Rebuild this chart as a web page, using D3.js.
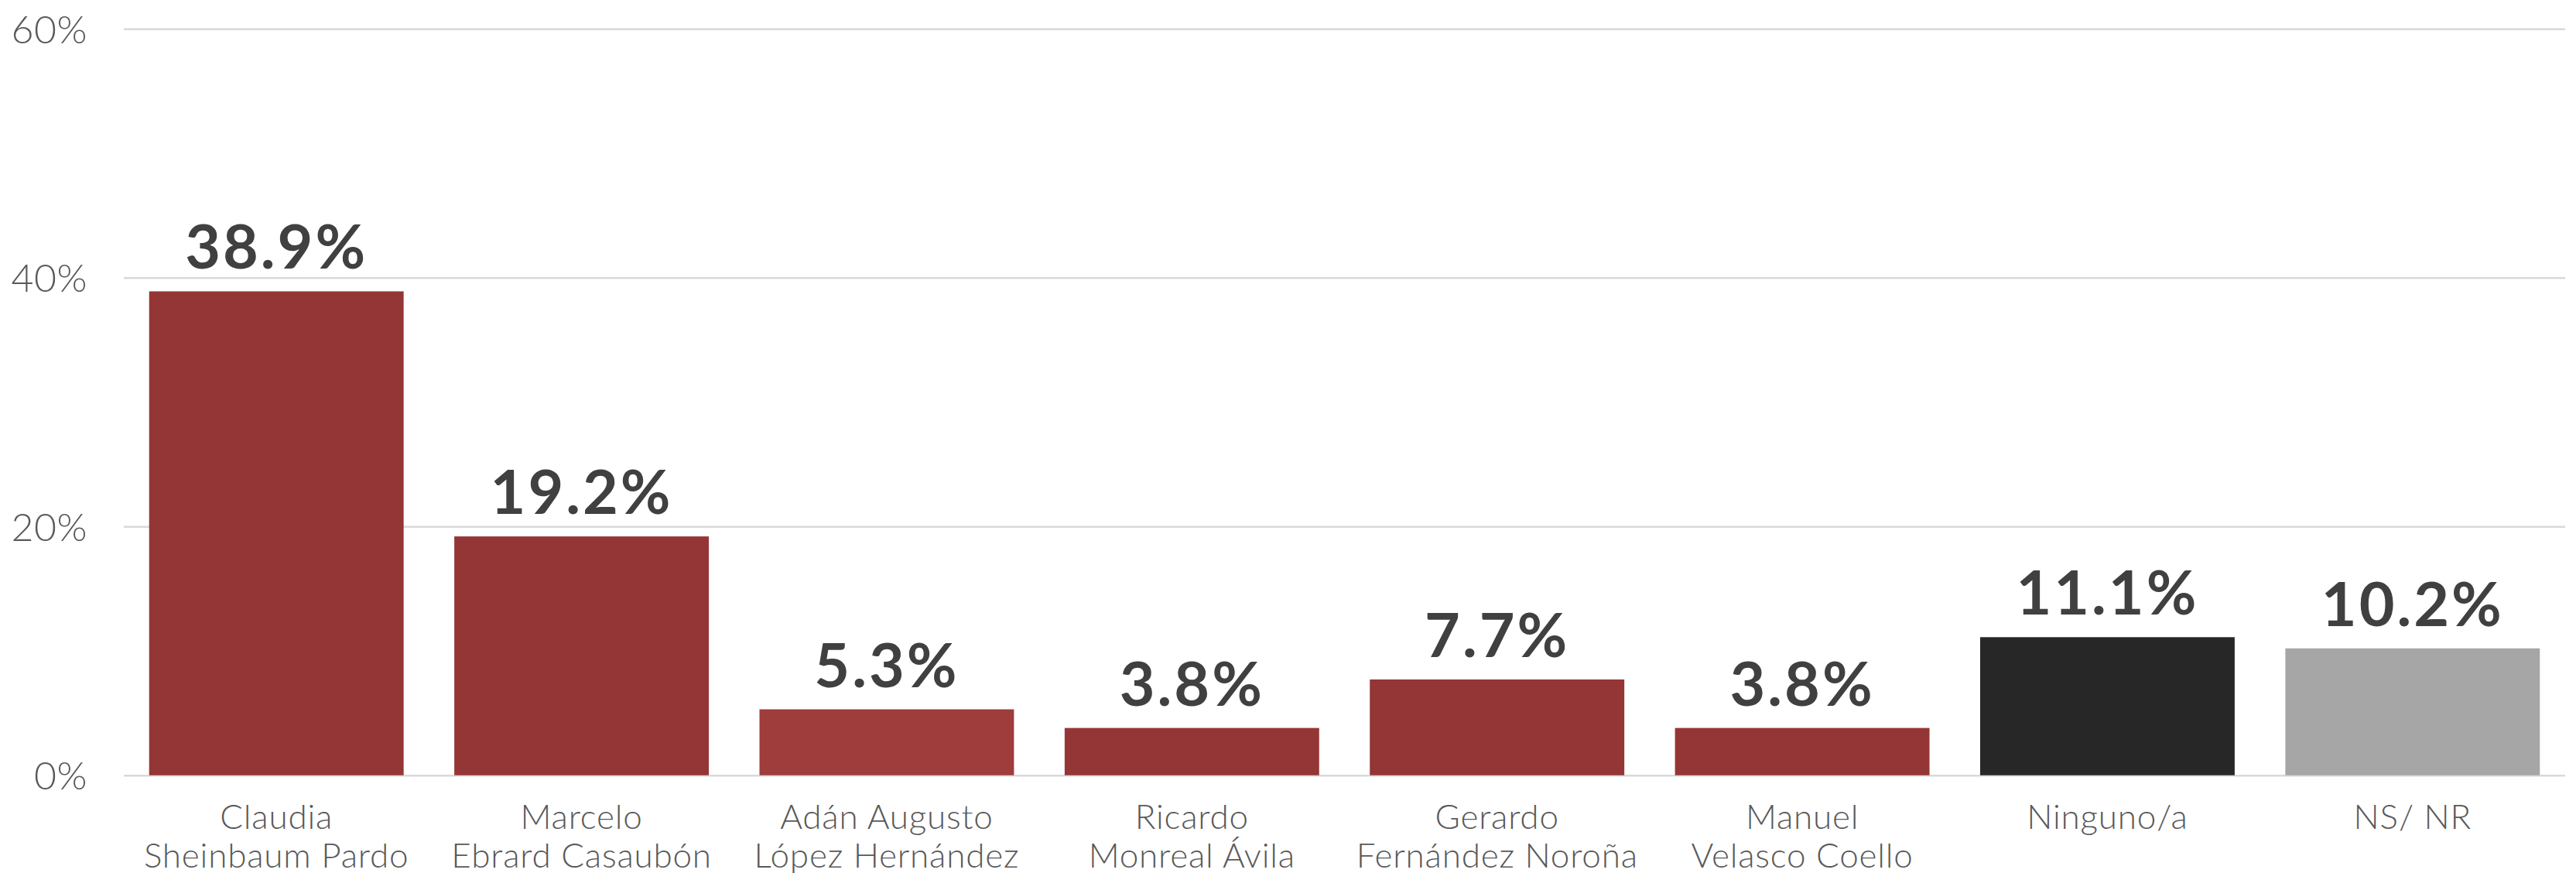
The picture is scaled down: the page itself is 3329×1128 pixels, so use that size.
<!DOCTYPE html>
<html>
<head>
<meta charset="utf-8">
<script src="https://cdn.jsdelivr.net/npm/d3@7"></script>
<style>
  html, body { margin: 0; padding: 0; background: #ffffff; }
  svg { display: block; }
</style>
</head>
<body>
<svg id="chart" width="3329" height="1128"></svg>
<script>
const categories = [
  ["Claudia", "Sheinbaum Pardo"],
  ["Marcelo", "Ebrard Casaubón"],
  ["Adán Augusto", "López Hernández"],
  ["Ricardo", "Monreal Ávila"],
  ["Gerardo", "Fernández Noroña"],
  ["Manuel", "Velasco Coello"],
  ["Ninguno/a"],
  ["NS/ NR"]
];
const values = [38.9, 19.2, 5.3, 3.8, 7.7, 3.8, 11.1, 10.2];
const barColors = ["#943635", "#943635", "#9f3c3c", "#943635", "#943635", "#943635", "#272727", "#a6a6a6"];
const yTicks = [0, 20, 40, 60];

const W = 3329, H = 1128;
const margin = { left: 160, right: 14, top: 37.3, bottom: 126.3 };
const svg = d3.select("#chart");

const ids = categories.map((c, i) => i);
const x = d3.scaleBand()
  .domain(ids)
  .range([margin.left, W - margin.right])
  .paddingInner(0.166)
  .paddingOuter(0.083);

const y = d3.scaleLinear()
  .domain([0, 60])
  .range([H - margin.bottom, margin.top]);

// Y axis with gridlines
const yAxis = d3.axisLeft(y)
  .tickValues(yTicks)
  .tickSize(-(W - margin.left - margin.right))
  .tickPadding(47)
  .tickFormat(d => d + "%");

const gy = svg.append("g")
  .attr("transform", `translate(${margin.left},0)`)
  .call(yAxis);
gy.select(".domain").remove();
gy.selectAll(".tick line")
  .attr("stroke", "#d9d9d9")
  .attr("stroke-width", 2.5);
gy.selectAll(".tick text")
  .attr("fill", "#595959")
  .attr("font-family", "Lato, sans-serif")
  .attr("font-weight", 300)
  .attr("font-size", 50)
  .attr("letter-spacing", 0.5)
  .attr("dy", "0.36em");

// Bars
svg.append("g")
  .selectAll("rect")
  .data(values)
  .join("rect")
  .attr("x", (d, i) => x(i))
  .attr("y", d => y(d))
  .attr("width", x.bandwidth())
  .attr("height", d => y(0) - y(d))
  .attr("fill", (d, i) => barColors[i]);

// Value labels
svg.append("g")
  .selectAll("text")
  .data(values)
  .join("text")
  .attr("x", (d, i) => x(i) + x.bandwidth() / 2)
  .attr("y", d => y(d) - 29)
  .attr("text-anchor", "middle")
  .attr("fill", "#404040")
  .attr("font-family", "Lato, sans-serif")
  .attr("font-weight", 700)
  .attr("font-size", 79)
  .attr("letter-spacing", 3)
  .text(d => d.toFixed(1) + "%");

// X axis (category labels)
const xAxis = d3.axisBottom(x).tickSize(0).tickFormat("");
const gx = svg.append("g")
  .attr("transform", `translate(0,${y(0)})`)
  .call(xAxis);
gx.select(".domain").remove();
gx.selectAll(".tick").each(function(i) {
  const t = d3.select(this).append("text")
    .attr("fill", "#595959")
    .attr("font-family", "Lato, sans-serif")
    .attr("font-weight", 300)
    .attr("font-size", 44)
    .attr("letter-spacing", 0.8)
    .attr("text-anchor", "middle");
  categories[i].forEach((line, k) => {
    t.append("tspan")
      .attr("x", 0)
      .attr("y", 69 + k * 50)
      .text(line);
  });
});
</script>
</body>
</html>
